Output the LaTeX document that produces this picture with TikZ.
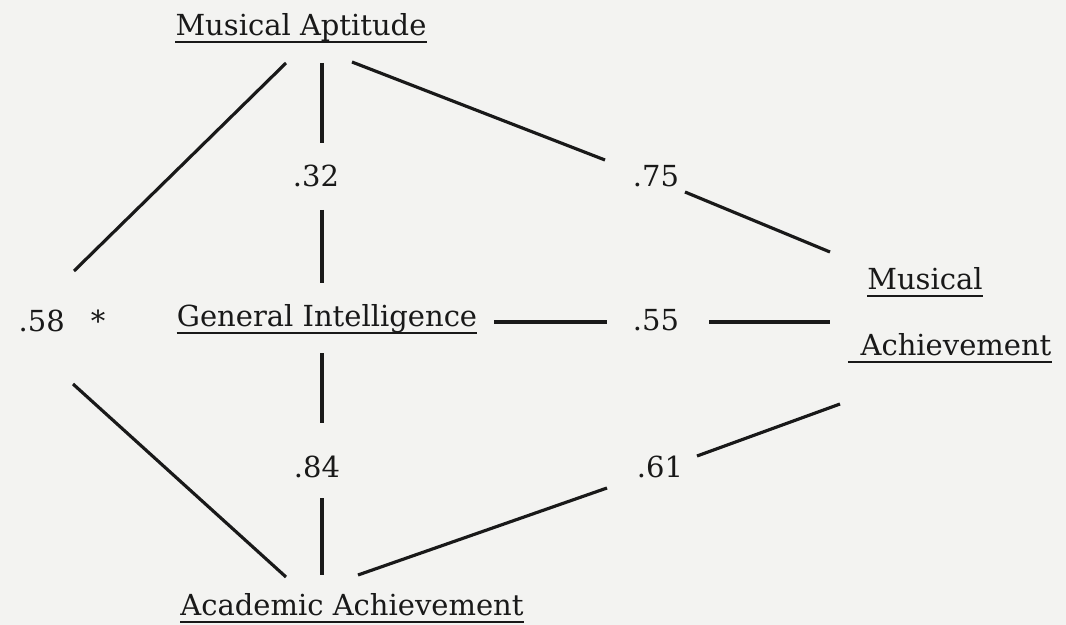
\documentclass[tikz,border=0pt]{standalone}
\usepackage{fontspec}
\setmainfont{DejaVu Serif}
\definecolor{paper}{RGB}{243,243,241}
\definecolor{ink}{RGB}{25,25,25}
\begin{document}
\begin{tikzpicture}[x=0.02cm,y=-0.02cm,
  lbl/.style={inner sep=0pt,text=ink,font=\fontsize{16.5}{20}\selectfont},
  conn/.style={draw=ink,line width=1.8pt},
  uline/.style={draw=ink,line width=1.1pt}]
\fill[paper] (0,0) rectangle (1066,625);
\useasboundingbox (0,0) rectangle (1066,625);
% variable names
\node[lbl] (MA) at (301,28) {Musical Aptitude};
\node[lbl] (GI) at (327,319) {General Intelligence};
\node[lbl] (AA) at (352,605) {Academic Achievement};
\node[lbl] (MUS) at (925,279) {Musical};
\node[lbl] (ACH) at (956,345) {Achievement};
% underlines
\draw[uline] ([yshift=-3.6pt]MA.base west) -- ([yshift=-3.6pt]MA.base east);
\draw[uline] ([yshift=-3.6pt]GI.base west) -- ([yshift=-3.6pt]GI.base east);
\draw[uline] ([yshift=-3.6pt]AA.base west) -- ([yshift=-3.6pt]AA.base east);
\draw[uline] ([yshift=-3.6pt]MUS.base west) -- ([yshift=-3.6pt]MUS.base east);
\draw[uline] ([yshift=-3.6pt,xshift=-7pt]ACH.base west) -- ([yshift=-3.6pt]ACH.base east);
% coefficients
\node[lbl] (r32) at (316,176) {.32};
\node[lbl] (r84) at (317,467) {.84};
\node[lbl] (r75) at (656,176) {.75};
\node[lbl] (r55) at (656,320) {.55};
\node[lbl] (r61) at (660,467) {.61};
\node[lbl] (r58) at (62,321) {.58\hspace{0.9em}*};
% line end points
\coordinate (a1) at (286,63);  \coordinate (a2) at (74,271);
\coordinate (b1) at (322,63);  \coordinate (b2) at (322,143);
\coordinate (b3) at (322,210); \coordinate (b4) at (322,283);
\coordinate (c1) at (352,62);  \coordinate (c2) at (605,160);
\coordinate (c3) at (685,192); \coordinate (c4) at (830,252);
\coordinate (d1) at (494,322); \coordinate (d2) at (607,322);
\coordinate (d3) at (709,322); \coordinate (d4) at (830,322);
\coordinate (e1) at (322,353); \coordinate (e2) at (322,423);
\coordinate (e3) at (322,498); \coordinate (e4) at (322,575);
\coordinate (f1) at (73,384);  \coordinate (f2) at (286,577);
\coordinate (g1) at (358,575); \coordinate (g2) at (607,488);
\coordinate (h1) at (697,456); \coordinate (h2) at (840,404);
% connectors
\draw[conn] (a1) -- (a2);
\draw[conn] (b1) -- (b2);
\draw[conn] (b3) -- (b4);
\draw[conn] (c1) -- (c2);
\draw[conn] (c3) -- (c4);
\draw[conn] (d1) -- (d2);
\draw[conn] (d3) -- (d4);
\draw[conn] (e1) -- (e2);
\draw[conn] (e3) -- (e4);
\draw[conn] (f1) -- (f2);
\draw[conn] (g1) -- (g2);
\draw[conn] (h1) -- (h2);
\end{tikzpicture}
\end{document}
